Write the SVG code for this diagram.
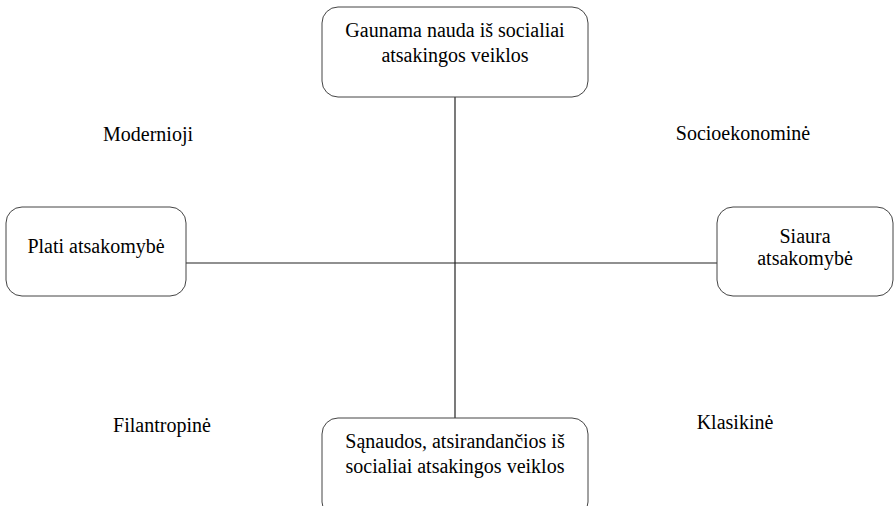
<svg xmlns="http://www.w3.org/2000/svg" width="895" height="506" viewBox="0 0 895 506">
<style>
.box{fill:#fff;stroke:#444;stroke-width:1}
.t{font-family:"Liberation Serif","Times New Roman",serif;font-size:20px;fill:#000;text-anchor:middle}
.ln{stroke:#222;stroke-width:1.2;fill:none}
</style>
<rect width="895" height="506" fill="#fff"/>
<g id="connectors">
<line class="ln" x1="455" y1="97" x2="455" y2="418"/>
<line class="ln" x1="186" y1="263" x2="717" y2="263"/>
</g>
<g id="top">
<rect class="box" x="322" y="7" width="266" height="90" rx="16"/>
<text class="t" x="455" y="37">Gaunama nauda iš socialiai</text>
<text class="t" x="455" y="62">atsakingos veiklos</text>
</g>
<g id="left">
<rect class="box" x="6" y="207" width="180" height="89" rx="16"/>
<text class="t" x="96" y="253">Plati atsakomybė</text>
</g>
<g id="right">
<rect class="box" x="717" y="207" width="176" height="89" rx="16"/>
<text class="t" x="805" y="243">Siaura</text>
<text class="t" x="805" y="265">atsakomybė</text>
</g>
<g id="bottom">
<rect class="box" x="322" y="418" width="266" height="100" rx="16"/>
<text class="t" x="455" y="448">Sąnaudos, atsirandančios iš</text>
<text class="t" x="455" y="473">socialiai atsakingos veiklos</text>
</g>
<g id="labels">
<text class="t" x="148" y="141">Modernioji</text>
<text class="t" x="743" y="140">Socioekonominė</text>
<text class="t" x="162" y="432">Filantropinė</text>
<text class="t" x="735" y="429">Klasikinė</text>
</g>
</svg>
